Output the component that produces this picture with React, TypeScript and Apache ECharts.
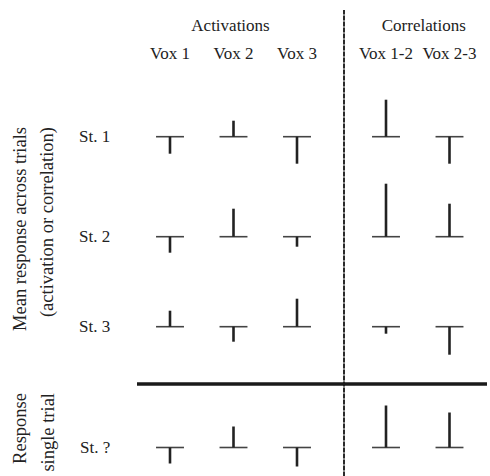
import React, { useEffect, useRef } from "react";
import * as echarts from "echarts";

const activationLabels = ["Vox 1", "Vox 2", "Vox 3"];
const correlationLabels = ["Vox 1-2", "Vox 2-3"];
const groupTitles = ["Activations", "Correlations"];
const rowLabels = ["St. 1", "St. 2", "St. 3", "St. ?"];

// responses per row (positive = upwards)
const activationValues = [
  [-17, 16, -27],
  [-16, 28, -10],
  [16, -15, 28],
  [-16, 21, -19],
];
const correlationValues = [
  [37, -27],
  [53, 33],
  [-7, -28],
  [42, 35],
];

const FONT = "'Liberation Serif', 'Times New Roman', serif";
const INK = "#222";

export default function App() {
  const ref = useRef<HTMLDivElement>(null);

  useEffect(() => {
    if (!ref.current) return;
    const chart = echarts.init(ref.current, null, { renderer: "svg" });

    const baselines = [136.7, 236.7, 326.7, 447.5];
    const groups = [
      { left: 138.25, width: 190.5, labels: activationLabels, values: activationValues },
      { left: 354.25, width: 127, labels: correlationLabels, values: correlationValues },
    ];

    const grids: any[] = [];
    const xAxes: any[] = [];
    const yAxes: any[] = [];
    const series: any[] = [];

    rowLabels.forEach((rowLabel, r) => {
      const min = r === 3 ? -20 : -40;
      const max = 60;
      groups.forEach((g, gi) => {
        const idx = grids.length;
        grids.push({
          left: g.left,
          width: g.width,
          top: baselines[r] - max,
          height: max - min,
          containLabel: false,
        });
        xAxes.push({
          type: "category",
          gridIndex: idx,
          data: g.labels,
          position: "top",
          axisLine: { show: false },
          axisTick: { show: false },
          splitLine: { show: false },
          axisLabel: {
            show: r === 0,
            margin: 15,
            fontFamily: FONT,
            fontSize: 17,
            color: INK,
            interval: 0,
          },
          name: r === 0 ? groupTitles[gi] : "",
          nameLocation: "middle",
          nameGap: 43,
          nameTextStyle: {
            fontFamily: FONT,
            fontSize: 17,
            color: INK,
            padding: gi === 0 ? [0, 6, 0, 0] : [0, 0, 0, 12],
          },
        });
        yAxes.push({
          type: "value",
          gridIndex: idx,
          min,
          max,
          interval: 20,
          axisLine: { show: false },
          axisTick: { show: false },
          splitLine: { show: false },
          axisLabel: {
            show: gi === 0,
            margin: 28,
            fontFamily: FONT,
            fontSize: 17,
            color: INK,
            formatter: (v: number) => (v === 0 ? rowLabel : ""),
          },
        });
        series.push({
          type: "custom",
          xAxisIndex: idx,
          yAxisIndex: idx,
          data: g.values[r].map((v, i) => [i, v]),
          encode: { x: 0, y: 1 },
          renderItem: (params: any, api: any) => {
            const x = api.value(0);
            const v = api.value(1);
            const base = api.coord([x, 0]);
            const tip = api.coord([x, v]);
            const half = api.size([1, 0])[0] * 0.22;
            return {
              type: "group",
              children: [
                {
                  type: "line",
                  shape: { x1: base[0] - half, y1: base[1], x2: base[0] + half, y2: base[1] },
                  style: { stroke: "#444", lineWidth: 1.6 },
                },
                {
                  type: "line",
                  shape: { x1: base[0], y1: base[1], x2: tip[0], y2: tip[1] },
                  style: { stroke: INK, lineWidth: 2.6 },
                },
              ],
            };
          },
        });
      });
    });

    chart.setOption({
      animation: false,
      backgroundColor: "#fff",
      grid: grids,
      xAxis: xAxes,
      yAxis: yAxes,
      series,
      graphic: [
        {
          type: "line",
          shape: { x1: 344, y1: 10, x2: 344, y2: 476 },
          style: { stroke: "#8a8a8a", lineWidth: 2 },
        },
        {
          type: "line",
          shape: { x1: 344, y1: 10, x2: 344, y2: 476 },
          style: { stroke: "#2a2a2a", lineWidth: 2, lineDash: [4, 2] },
        },
        {
          type: "line",
          shape: { x1: 137, y1: 384, x2: 487, y2: 384 },
          style: { stroke: "#1a1a1a", lineWidth: 3.5 },
        },
        {
          type: "text",
          x: 33,
          y: 127,
          rotation: Math.PI / 2,
          style: {
            text: "Mean response across trials\n(activation or correlation)",
            align: "right",
            verticalAlign: "middle",
            lineHeight: 27,
            fontFamily: FONT,
            fontSize: 18.5,
            fill: INK,
          },
        },
        {
          type: "text",
          x: 34,
          y: 393,
          rotation: Math.PI / 2,
          style: {
            text: "Response\nsingle trial",
            align: "right",
            verticalAlign: "middle",
            lineHeight: 28,
            fontFamily: FONT,
            fontSize: 18.5,
            fill: INK,
          },
        },
      ],
    });

    return () => chart.dispose();
  }, []);

  return (
    <div
      ref={ref}
      style={{ position: "absolute", left: 0, top: 0, width: 490, height: 476 }}
    />
  );
}
